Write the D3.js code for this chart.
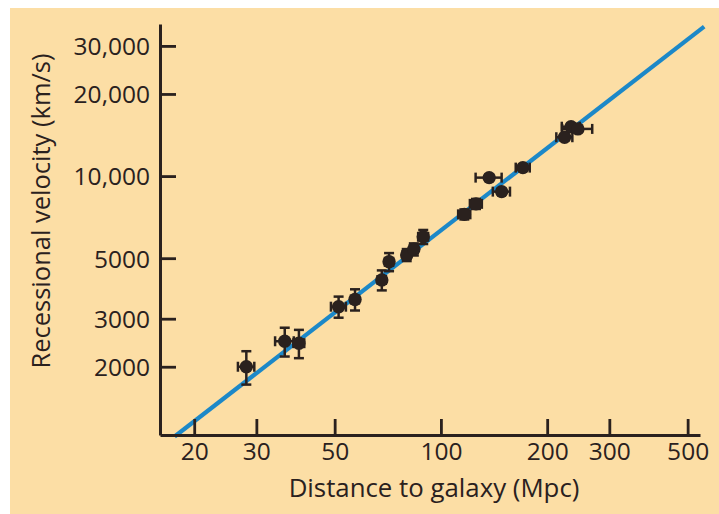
<!DOCTYPE html>
<html>
<head>
<meta charset="utf-8">
<script src="https://cdn.jsdelivr.net/npm/d3@7"></script>
<style>
  html, body { margin: 0; padding: 0; background: #ffffff; }
  svg { display: block; }
</style>
</head>
<body>
<svg id="chart" width="719" height="514"></svg>
<script>
// ---- data ----
const distance = [28.1, 36.1, 39.6, 51.3, 57.1, 68.0, 71.3, 80.0, 83.8, 89.1, 116.5, 125.7, 137.0, 148.6, 170.7, 224.0, 233.7, 244.4];
const velocity = [2000, 2480, 2440, 3320, 3530, 4160, 4850, 5140, 5390, 5990, 7240, 7910, 9870, 8770, 10740, 13880, 15170, 14890];
const distErr  = [1.5, 2.2, 1.4, 2.5, 1.5, 1.8, 1.9, 2.1, 2.2, 2.9, 4.6, 4.9, 11.6, 8.3, 7.8, 11.7, 13.7, 23.9];
const velErr   = [280, 300, 290, 295, 315, 350, 370, 260, 275, 355, 305, 335, 250, 220, 270, 350, 380, 375];
const fitDist  = [17.6, 557];
const fitVel   = [1110, 35300];
const xTicks = [20, 30, 50, 100, 200, 300, 500];
const xTickLabels = ["20", "30", "50", "100", "200", "300", "500"];
const yTicks = [2000, 3000, 5000, 10000, 20000, 30000];
const yTickLabels = ["2000", "3000", "5000", "10,000", "20,000", "30,000"];
const xTitle = "Distance to galaxy (Mpc)";
const yTitle = "Recessional velocity (km/s)";

const ink = "#2a211e";
const svg = d3.select("#chart");

svg.append("rect").attr("x", 10).attr("y", 8).attr("width", 709).attr("height", 506).attr("fill", "#fcdea5");

const x = d3.scaleLog().domain([16, 542]).range([160, 700]);
const y = d3.scaleLog().domain([1124, 36100]).range([435, 24]);

// fit line
svg.append("line")
  .attr("x1", x(fitDist[0])).attr("y1", y(fitVel[0]))
  .attr("x2", x(fitDist[1])).attr("y2", y(fitVel[1]))
  .attr("stroke", "#1c88c8").attr("stroke-width", 4.2);

// axes
const font = "'Open Sans', 'DejaVu Sans', sans-serif";
const yAxis = d3.axisLeft(y).tickValues(yTicks)
  .tickFormat((d, i) => yTickLabels[i]).tickSizeInner(-16).tickSizeOuter(0).tickPadding(10);
const xAxis = d3.axisBottom(x).tickValues(xTicks)
  .tickFormat((d, i) => xTickLabels[i]).tickSizeInner(-16).tickSizeOuter(0).tickPadding(8);

const gy = svg.append("g").attr("transform", "translate(160,0)").call(yAxis);
const gx = svg.append("g").attr("transform", "translate(0,435)").call(xAxis);
[gx, gy].forEach(g => {
  g.select(".domain").attr("stroke", ink).attr("stroke-width", 3);
  g.selectAll(".tick line").attr("stroke", ink).attr("stroke-width", 2.8);
  g.selectAll(".tick text").attr("fill", ink).style("font-family", font).style("font-size", "24.5px");
});
gy.selectAll(".tick text").attr("dy", "0.36em");

// error bars
const pts = distance.map((d, i) => ({d, v: velocity[i], de: distErr[i], ve: velErr[i]}));
const cap = 5;
const eg = svg.append("g").attr("stroke", ink).attr("stroke-width", 2.5);
pts.forEach(p => {
  const cx = x(p.d), cy = y(p.v);
  const xl = x(p.d - p.de), xr = x(p.d + p.de);
  const yt = y(p.v + p.ve), yb = y(p.v - p.ve);
  eg.append("line").attr("x1", xl).attr("x2", xr).attr("y1", cy).attr("y2", cy);
  eg.append("line").attr("x1", xl).attr("x2", xl).attr("y1", cy - cap).attr("y2", cy + cap);
  eg.append("line").attr("x1", xr).attr("x2", xr).attr("y1", cy - cap).attr("y2", cy + cap);
  eg.append("line").attr("x1", cx).attr("x2", cx).attr("y1", yt).attr("y2", yb);
  eg.append("line").attr("x1", cx - cap).attr("x2", cx + cap).attr("y1", yt).attr("y2", yt);
  eg.append("line").attr("x1", cx - cap).attr("x2", cx + cap).attr("y1", yb).attr("y2", yb);
});
svg.append("g").selectAll("circle").data(pts).join("circle")
  .attr("cx", p => x(p.d)).attr("cy", p => y(p.v)).attr("r", 6.7).attr("fill", ink);

// titles
svg.append("text").attr("x", 434).attr("y", 497).attr("text-anchor", "middle")
  .attr("fill", ink).style("font-family", font).style("font-size", "25.8px").text(xTitle);
svg.append("text").attr("transform", "translate(50,211) rotate(-90)").attr("text-anchor", "middle")
  .attr("fill", ink).style("font-family", font).style("font-size", "25.5px").text(yTitle);
</script>
</body>
</html>
